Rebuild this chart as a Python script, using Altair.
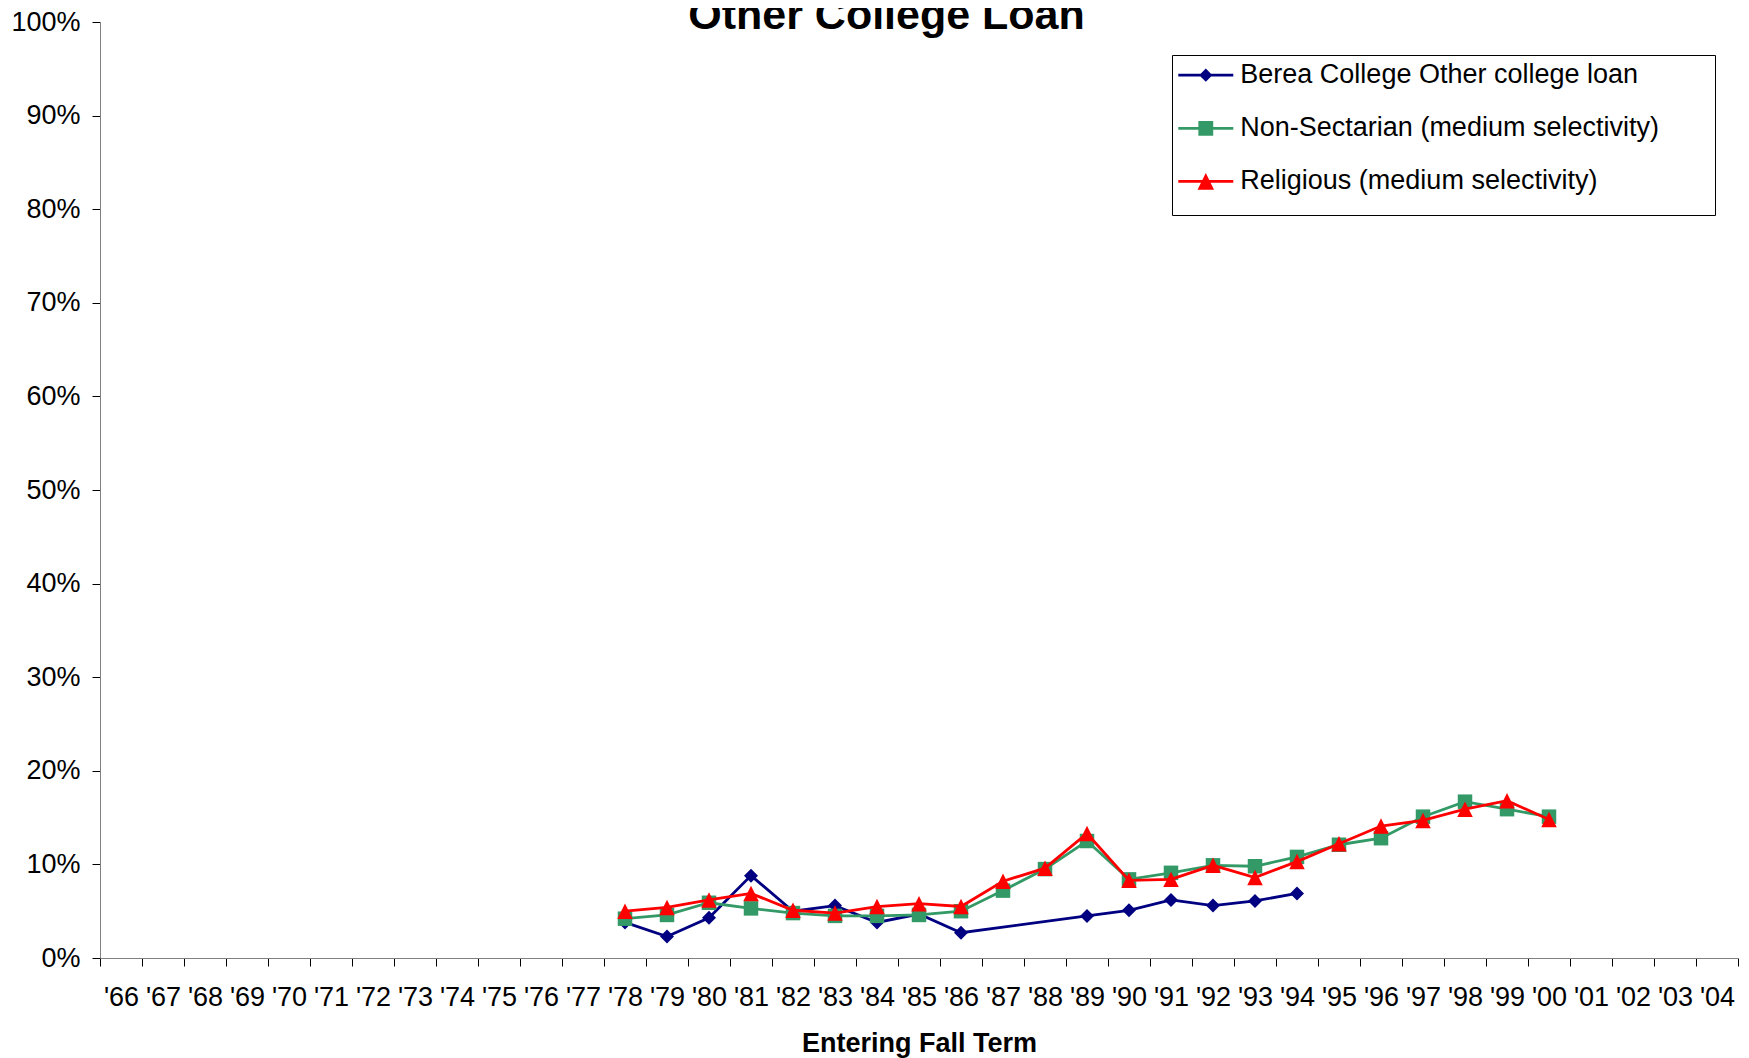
import altair as alt
import pandas as pd

# ---------------- data ----------------
years = ["'66", "'67", "'68", "'69", "'70", "'71", "'72", "'73", "'74", "'75",
         "'76", "'77", "'78", "'79", "'80", "'81", "'82", "'83", "'84", "'85",
         "'86", "'87", "'88", "'89", "'90", "'91", "'92", "'93", "'94", "'95",
         "'96", "'97", "'98", "'99", "'00", "'01", "'02", "'03", "'04"]

series_names = ["Berea College Other college loan",
                "Non-Sectarian (medium selectivity)",
                "Religious (medium selectivity)"]
series_colors = ["#000080", "#339966", "#FF0000"]

berea_years = ["'78", "'79", "'80", "'81", "'82", "'83", "'84", "'85", "'86",
               "'89", "'90", "'91", "'92", "'93", "'94"]
berea_values = [3.8, 2.3, 4.3, 8.8, 5.0, 5.6, 3.8, 4.7, 2.7,
                4.5, 5.1, 6.2, 5.6, 6.1, 6.9]

peer_years = ["'78", "'79", "'80", "'81", "'82", "'83", "'84", "'85", "'86",
              "'87", "'88", "'89", "'90", "'91", "'92", "'93", "'94", "'95",
              "'96", "'97", "'98", "'99", "'00"]
nonsect_values = [4.2, 4.6, 5.9, 5.3, 4.8, 4.5, 4.5, 4.6, 5.0,
                  7.2, 9.5, 12.5, 8.4, 9.1, 9.9, 9.8, 10.8, 12.1,
                  12.8, 15.1, 16.7, 15.9, 15.1]
religious_values = [5.0, 5.4, 6.2, 6.9, 5.1, 4.8, 5.5, 5.8, 5.5,
                    8.2, 9.6, 13.3, 8.3, 8.4, 9.9, 8.6, 10.3, 12.2,
                    14.1, 14.7, 15.9, 16.8, 14.8]

y_ticks = [0, 10, 20, 30, 40, 50, 60, 70, 80, 90, 100]
title_text = "Other College Loan"
x_title = "Entering Fall Term"

# ---------------- table ----------------
rows = []
for y, v in zip(berea_years, berea_values):
    rows.append({"year": y, "value": v, "series": series_names[0]})
for y, v in zip(peer_years, nonsect_values):
    rows.append({"year": y, "value": v, "series": series_names[1]})
for y, v in zip(peer_years, religious_values):
    rows.append({"year": y, "value": v, "series": series_names[2]})
df = pd.DataFrame(rows)

FONT = "Liberation Sans"
FS = 27
W, H = 1638, 936

x_enc = alt.X(
    "year:O",
    scale=alt.Scale(type="band", domain=years, paddingInner=0, paddingOuter=0),
    bandPosition=0.5,
    title=x_title,
    axis=alt.Axis(
        labelFont=FONT, labelFontSize=FS, labelColor="black", labelAngle=0,
        labelPadding=18.7, labelOverlap=False, labelBound=False, labelFlush=False,
        tickBand="extent", tickSize=8, tickColor="black", tickWidth=1,
        domainColor="#808080", domainWidth=1, grid=False,
        titleFont=FONT, titleFontSize=FS, titleFontWeight="bold", titleColor="black",
        titleBaseline="alphabetic", titleY=93.5,
    ),
)
y_enc = alt.Y(
    "value:Q",
    scale=alt.Scale(domain=[0, 100], nice=False, zero=True),
    title=None,
    axis=alt.Axis(
        values=y_ticks, labelExpr="datum.value + '%'",
        labelFont=FONT, labelFontSize=FS, labelColor="black", labelPadding=12,
        tickSize=8, tickColor="black", tickWidth=1,
        domainColor="#808080", domainWidth=1, grid=False,
    ),
)

base = alt.Chart(df)

point_shapes = ["diamond", "square", "M0,-1L1,1L-1,1Z"]
point_sizes = [196, 210, 240]

layers = []

# legend box
box = alt.Chart(pd.DataFrame({"b": [0]})).mark_rect(
    fill="white", stroke="black", strokeWidth=1
).encode(
    x=alt.value(1072.5), x2=alt.value(1615.5),
    y=alt.value(33.5), y2=alt.value(193.5),
)
layers.append(box)

for name, color, shp, sz in zip(series_names, series_colors, point_shapes, point_sizes):
    sub = base.transform_filter(alt.datum.series == name)
    layers.append(sub.mark_line(color=color, strokeWidth=2.8).encode(x=x_enc, y=y_enc))
    layers.append(
        sub.mark_point(filled=True, shape=shp, size=sz, color=color, opacity=1)
        .encode(x=x_enc, y=y_enc)
    )

# legend (native) with line+marker symbols
legend_paths = [
    "M-1,-0.05H1V0.05H-1Z M0,-0.24L0.24,0L0,0.24L-0.24,0Z",
    "M-1,-0.05H1V0.05H-1Z M-0.27,-0.27H0.27V0.27H-0.27Z",
    "M-1,-0.05H1V0.05H-1Z M0,-0.31L0.3,0.3L-0.3,0.3Z",
]
leg = alt.Legend(
    title=None, orient="none", legendX=1078.3, legendY=25.7, padding=0,
    symbolSize=3025, symbolOpacity=1, symbolStrokeWidth=0,
    labelFont=FONT, labelFontSize=FS, labelColor="black", labelOffset=7,
    labelLimit=0, rowPadding=12.1,
)
legend_layer = alt.Chart(pd.DataFrame({"series": series_names})).mark_point(
    filled=True, opacity=0
).encode(
    color=alt.Color("series:N", scale=alt.Scale(domain=series_names, range=series_colors), legend=leg),
    shape=alt.Shape("series:N", scale=alt.Scale(domain=series_names, range=legend_paths), legend=leg),
)
layers.append(legend_layer)

# chart title (partly cut off at the top as in the reference)
title_layer = alt.Chart(pd.DataFrame({"t": [title_text]})).mark_text(
    font=FONT, fontSize=43, fontWeight="bold", baseline="alphabetic",
    align="center", color="black"
).encode(text="t:N", x=alt.value(786.5), y=alt.value(7))
layers.append(title_layer)

chart = alt.layer(*layers).properties(
    width=W, height=H,
    autosize=alt.AutoSizeParams(type="none"),
    padding={"left": 92, "top": 14, "right": 3, "bottom": 100},
    background="white",
).configure_view(stroke="transparent")

chart.save("out.html", embed_options={"renderer": "svg", "actions": False})
